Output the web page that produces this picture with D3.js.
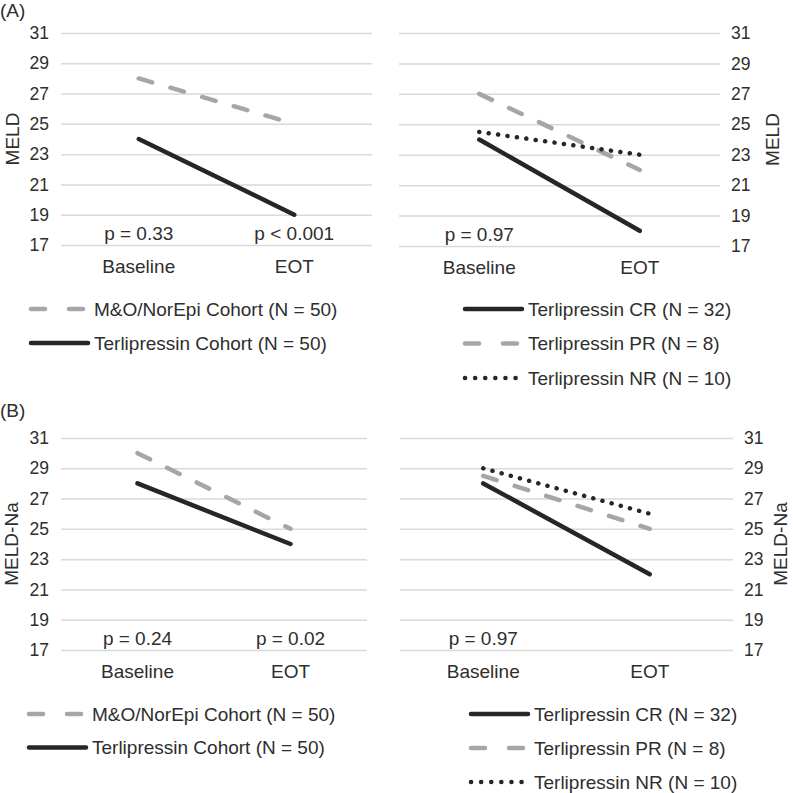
<!DOCTYPE html>
<html>
<head>
<meta charset="utf-8">
<script src="https://cdn.jsdelivr.net/npm/d3@7"></script>
<style>
  body { margin: 0; background: #fff; }
  svg text { font-family: "Liberation Sans", Arial, sans-serif; fill: #2e2e2e; }
</style>
</head>
<body>
<div id="chart"></div>
<script>
const width = 793;
const height = 793;

// data
const categories = ['Baseline', 'EOT'];
const yTicks = [17, 19, 21, 23, 25, 27, 29, 31];

const meldCohortMO = [28, 25];
const meldCohortTerli = [24, 19];
const meldCR = [24, 18];
const meldPR = [27, 22];
const meldNR = [24.5, 23];
const meldPLeft = ['p = 0.33', 'p < 0.001'];
const meldPRight = ['p = 0.97', ''];

const naCohortMO = [30, 25];
const naCohortTerli = [28, 24];
const naCR = [28, 22];
const naPR = [28.5, 25];
const naNR = [29, 26];
const naPLeft = ['p = 0.24', 'p = 0.02'];
const naPRight = ['p = 0.97', ''];

const cohortNames = ['M&O/NorEpi Cohort (N = 50)', 'Terlipressin Cohort (N = 50)'];
const responseNames = ['Terlipressin CR (N = 32)', 'Terlipressin PR (N = 8)', 'Terlipressin NR (N = 10)'];

// line styles
const styles = {
  solid:  { color: '#262626', dash: null },
  dashed: { color: '#a6a6a6', dash: '14,19' },
  dotted: { color: '#262626', dash: '0.1,9.4' }
};

let svg = d3.select('#chart').append('svg')
  .attr('width', width)
  .attr('height', height);

function drawPanel(p) {
  let g = svg.append('g');
  let x = d3.scaleBand().domain(categories).range([p.x0, p.x1]);
  let y = d3.scaleLinear().domain([17, 31]).range([p.y0, p.y1]);
  let w = p.x1 - p.x0;

  // gridlines + tick labels
  let axis = p.side === 'left' ? d3.axisLeft(y) : d3.axisRight(y);
  axis.tickValues(yTicks).tickSize(-w).tickPadding(p.side === 'left' ? 12 : 11);
  let ag = g.append('g')
    .attr('transform', 'translate(' + (p.side === 'left' ? p.x0 : p.x1) + ',0)')
    .call(axis);
  ag.select('.domain').remove();
  ag.selectAll('.tick line').attr('stroke', '#d9d9d9').attr('stroke-width', 1.5);
  ag.selectAll('.tick text').style('font-size', '17.5px').attr('fill', '#2e2e2e');

  // category labels
  let xg = g.append('g')
    .attr('transform', 'translate(0,' + p.y0 + ')')
    .call(d3.axisBottom(x).tickSize(0).tickPadding(15));
  xg.select('.domain').remove();
  xg.selectAll('.tick text').style('font-size', '19px').attr('fill', '#2e2e2e');

  // p values
  g.selectAll('text.pval').data(p.pvals).enter().append('text')
    .attr('class', 'pval')
    .attr('x', (d, i) => x(categories[i]) + x.bandwidth() / 2)
    .attr('y', p.y0 - 5)
    .attr('text-anchor', 'middle')
    .style('font-size', '19px')
    .text(d => d);

  // series lines
  let line = d3.line()
    .x((d, i) => x(categories[i]) + x.bandwidth() / 2)
    .y(d => y(d));
  p.series.forEach(s => {
    let st = styles[s.style];
    g.append('path')
      .datum(s.values)
      .attr('d', line)
      .attr('fill', 'none')
      .attr('stroke', st.color)
      .attr('stroke-width', 4.5)
      .attr('stroke-linecap', 'round')
      .attr('stroke-dasharray', st.dash);
  });

  // axis title
  g.append('text')
    .attr('transform', 'translate(' + p.titleX + ',' + ((p.y0 + p.y1) / 2) + ') rotate(-90)')
    .attr('text-anchor', 'middle')
    .attr('dy', '0.35em')
    .style('font-size', '19px')
    .text(p.title);

  // legend
  let lg = g.append('g');
  p.legend.forEach((d, i) => {
    let st = styles[d.style];
    let ly = p.legendY + i * p.legendStep;
    lg.append('line')
      .attr('x1', p.legendX).attr('x2', p.legendX + 57)
      .attr('y1', ly).attr('y2', ly)
      .attr('stroke', st.color)
      .attr('stroke-width', 4.5)
      .attr('stroke-linecap', 'round')
      .attr('stroke-dasharray', d.style === 'dashed' ? '14,24' : (d.style === 'dotted' ? '0.1,10' : null));
    lg.append('text')
      .attr('x', p.legendX + 63)
      .attr('y', ly)
      .attr('dy', '0.35em')
      .style('font-size', '19px')
      .text(d.name);
  });
}

// (A) MELD
drawPanel({
  side: 'left', x0: 61, x1: 372, y0: 245, y1: 33, title: 'MELD', titleX: 12,
  pvals: meldPLeft,
  series: [
    { values: meldCohortMO, style: 'dashed' },
    { values: meldCohortTerli, style: 'solid' }
  ],
  legend: [
    { name: cohortNames[0], style: 'dashed' },
    { name: cohortNames[1], style: 'solid' }
  ],
  legendX: 31, legendY: 309, legendStep: 34
});
drawPanel({
  side: 'right', x0: 399, x1: 720, y0: 246, y1: 33, title: 'MELD', titleX: 772,
  pvals: meldPRight,
  series: [
    { values: meldPR, style: 'dashed' },
    { values: meldCR, style: 'solid' },
    { values: meldNR, style: 'dotted' }
  ],
  legend: [
    { name: responseNames[0], style: 'solid' },
    { name: responseNames[1], style: 'dashed' },
    { name: responseNames[2], style: 'dotted' }
  ],
  legendX: 465, legendY: 309, legendStep: 34.5
});

// (B) MELD-Na
drawPanel({
  side: 'left', x0: 61, x1: 367, y0: 650, y1: 438, title: 'MELD-Na', titleX: 11,
  pvals: naPLeft,
  series: [
    { values: naCohortMO, style: 'dashed' },
    { values: naCohortTerli, style: 'solid' }
  ],
  legend: [
    { name: cohortNames[0], style: 'dashed' },
    { name: cohortNames[1], style: 'solid' }
  ],
  legendX: 29, legendY: 714, legendStep: 33.5
});
drawPanel({
  side: 'right', x0: 400, x1: 733, y0: 650, y1: 438, title: 'MELD-Na', titleX: 780,
  pvals: naPRight,
  series: [
    { values: naPR, style: 'dashed' },
    { values: naCR, style: 'solid' },
    { values: naNR, style: 'dotted' }
  ],
  legend: [
    { name: responseNames[0], style: 'solid' },
    { name: responseNames[1], style: 'dashed' },
    { name: responseNames[2], style: 'dotted' }
  ],
  legendX: 471, legendY: 714, legendStep: 34
});

// panel letters
svg.append('text').attr('x', 0).attr('y', 17).style('font-size', '19px').text('(A)');
svg.append('text').attr('x', 0).attr('y', 417).style('font-size', '19px').text('(B)');
</script>
</body>
</html>
